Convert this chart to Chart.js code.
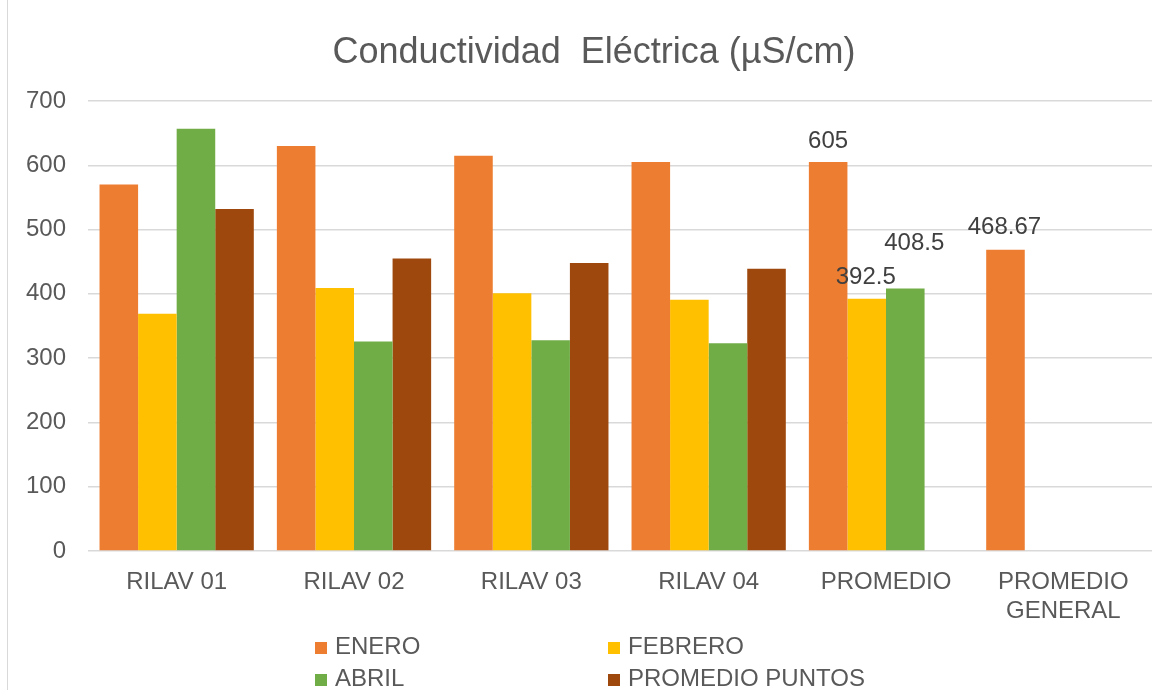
<!DOCTYPE html>
<html>
<head>
<meta charset="utf-8">
<script src="https://cdn.jsdelivr.net/npm/chart.js@4.4.1/dist/chart.umd.min.js"></script>
<style>
  html, body { margin: 0; padding: 0; background: #ffffff; }
  #wrap { position: relative; width: 1166px; height: 690px; }
</style>
</head>
<body>
<div id="wrap"><canvas id="c" width="1166" height="690"></canvas></div>
<script>
const titleText = 'Conductividad  Eléctrica (µS/cm)';
const categories = ['RILAV 01', 'RILAV 02', 'RILAV 03', 'RILAV 04', 'PROMEDIO', ['PROMEDIO', 'GENERAL']];
const seriesNames = ['ENERO', 'FEBRERO', 'ABRIL', 'PROMEDIO PUNTOS'];
const enero = [570, 630, 615, 605, 605, 468.67];
const febrero = [369, 409, 401, 391, 392.5, null];
const abril = [657, 326, 328, 323, 408.5, null];
const promedioPuntos = [532, 455, 448, 439, null, null];
const yTicks = [0, 100, 200, 300, 400, 500, 600, 700];
const colors = ['#ED7D31', '#FFC000', '#70AD47', '#9E480E'];

const FONT = '"Liberation Sans", Arial, sans-serif';
const TEXT = '#595959';

// labelled values: [datasetIndex, categoryIndex, dx, dy(baseline offset above bar top)]
const labelled = [[0, 4, 0, 14], [1, 4, -1, 15], [2, 4, 9, 38], [0, 5, -1, 16]];

const customDraw = {
  id: 'customDraw',
  afterDraw(chart) {
    const ctx = chart.ctx;
    ctx.save();
    // outer border line
    ctx.strokeStyle = '#d9d9d9';
    ctx.lineWidth = 1;
    ctx.beginPath();
    ctx.moveTo(7.5, 0); ctx.lineTo(7.5, 690);
    ctx.stroke();
    // title
    ctx.fillStyle = TEXT;
    ctx.font = '36px ' + FONT;
    ctx.textAlign = 'center';
    ctx.textBaseline = 'alphabetic';
    ctx.fillText(titleText, 594, 63);
    // data labels
    ctx.fillStyle = '#404040';
    ctx.font = '24px ' + FONT;
    labelled.forEach(([d, i, dx, dy]) => {
      const el = chart.getDatasetMeta(d).data[i];
      const v = chart.data.datasets[d].data[i];
      ctx.fillText(String(v), el.x + dx, el.y - dy);
    });
    // legend 2x2
    ctx.textAlign = 'left';
    ctx.font = '24px ' + FONT;
    const colX = [315, 608];
    const rowY = [654, 686];
    chart.data.datasets.forEach((ds, k) => {
      const x = colX[k % 2], y = rowY[Math.floor(k / 2)];
      ctx.fillStyle = ds.backgroundColor;
      ctx.fillRect(x, y - 12, 12, 12);
      ctx.fillStyle = TEXT;
      ctx.fillText(ds.label, x + 20, y);
    });
    ctx.restore();
  }
};

const seriesData = [enero, febrero, abril, promedioPuntos];
new Chart(document.getElementById('c'), {
  type: 'bar',
  data: {
    labels: categories,
    datasets: seriesNames.map((n, k) => ({
      label: n,
      data: seriesData[k],
      backgroundColor: colors[k],
      borderWidth: 0,
      categoryPercentage: 0.87,
      barPercentage: 1.0
    }))
  },
  options: {
    responsive: false,
    animation: false,
    devicePixelRatio: 1,
    layout: { padding: { left: 0, right: 14, top: 101, bottom: 59 } },
    plugins: {
      legend: { display: false },
      title: { display: false },
      tooltip: { enabled: false }
    },
    scales: {
      x: {
        grid: { display: false, drawTicks: false },
        border: { display: false },
        ticks: { color: TEXT, font: { family: FONT, size: 24 }, padding: 17, maxRotation: 0, autoSkip: false },
        afterFit(scale) { scale.height = 80; }
      },
      y: {
        min: 0, max: 700,
        afterBuildTicks(scale) { scale.ticks = yTicks.map(v => ({ value: v })); },
        grid: { color: '#d9d9d9', lineWidth: 1.5, drawTicks: false },
        border: { display: false },
        ticks: { color: TEXT, font: { family: FONT, size: 24 }, padding: 22 },
        afterFit(scale) { scale.width = 88; }
      }
    }
  },
  plugins: [customDraw]
});
</script>
</body>
</html>
